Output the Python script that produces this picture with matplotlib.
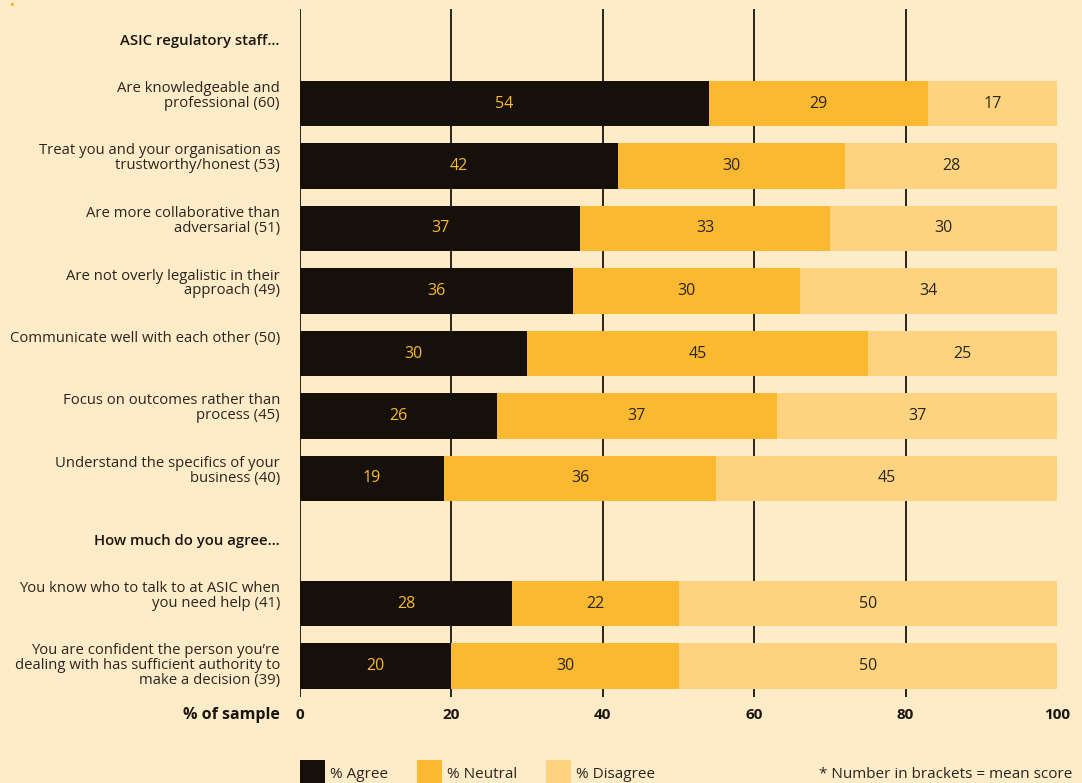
import matplotlib
matplotlib.use("Agg")
import matplotlib.pyplot as plt
import matplotlib.transforms as mtransforms
from matplotlib.patches import Rectangle

plt.rcParams['font.family'] = ['Open Sans', 'DejaVu Sans']

# ---------------- data ----------------
header1 = "ASIC regulatory staff\u2026"
header2 = "How much do you agree\u2026"
labels1 = [
    "Are knowledgeable and\nprofessional (60)",
    "Treat you and your organisation as\ntrustworthy/honest (53)",
    "Are more collaborative than\nadversarial (51)",
    "Are not overly legalistic in their\napproach (49)",
    "Communicate well with each other (50)",
    "Focus on outcomes rather than\nprocess (45)",
    "Understand the specifics of your\nbusiness (40)",
]
labels2 = [
    "You know who to talk to at ASIC when\nyou need help (41)",
    "You are confident the person you\u2019re\ndealing with has sufficient authority to\nmake a decision (39)",
]
agree1 = [54, 42, 37, 36, 30, 26, 19]
neutral1 = [29, 30, 33, 30, 45, 37, 36]
disagree1 = [17, 28, 30, 34, 25, 37, 45]
agree2 = [28, 20]
neutral2 = [22, 30]
disagree2 = [50, 50]
xticks = [0, 20, 40, 60, 80, 100]
legend_labels = ["% Agree", "% Neutral", "% Disagree"]

# ---------------- style ----------------
BG = "#FEEBC7"
C_AGREE = "#15100A"
C_NEUTRAL = "#FBB931"
C_DIS = "#FDD380"
TXT = "#2A2520"

W, H = 1082, 783
fig = plt.figure(figsize=(W / 100, H / 100), dpi=100, facecolor=BG)

def fx(px):
    return px / W

def fy(py):
    return 1 - py / H

ax_left, ax_right, ax_top, ax_bot = 300, 1057, 9, 697
ax = fig.add_axes([fx(ax_left), fy(ax_bot), fx(ax_right - ax_left), (ax_bot - ax_top) / H])
ax.set_facecolor(BG)
for s in ax.spines.values():
    s.set_visible(False)
ax.set_xlim(0, 100)
slot0, slotstep = 41, 62.5
ax.set_ylim((ax_bot - slot0) / slotstep, (ax_top - slot0) / slotstep)
ax.set_xticks([])
ax.set_yticks([])

# grid lines
for t in xticks[:-1]:
    ax.axvline(t, color="#1A140C", lw=1.3, zorder=0)

# rows: slot 0 header1, 1..7 group 1, 8 header2, 9..10 group 2
labels = labels1 + labels2
agree = agree1 + agree2
neutral = neutral1 + neutral2
disagree = disagree1 + disagree2
slots = list(range(1, 8)) + [9, 10]
bh = 0.73

for lab, a, n, d, s in zip(labels, agree, neutral, disagree, slots):
    ax.barh(s, a, left=0, height=bh, color=C_AGREE, zorder=2)
    ax.barh(s, n, left=a, height=bh, color=C_NEUTRAL, zorder=2)
    ax.barh(s, d, left=a + n, height=bh, color=C_DIS, zorder=2)
    ax.text(a / 2, s, str(a), ha="center", va="center", color=C_NEUTRAL, fontsize=11.5, zorder=3)
    ax.text(a + n / 2, s, str(n), ha="center", va="center", color=TXT, fontsize=11.5, zorder=3)
    ax.text(a + n + d / 2, s, str(d), ha="center", va="center", color=TXT, fontsize=11.5, zorder=3)

# category labels (top aligned with bar top)
trans_lab = mtransforms.blended_transform_factory(fig.transFigure, ax.transData)
for lab, s in zip(labels, slots):
    ax.text(fx(280), s - bh / 2 + 0.005, lab, transform=trans_lab, ha="right", va="top",
            fontsize=10.75, color=TXT, linespacing=0.98)

for hdr, s in [(header1, 0), (header2, 8)]:
    ax.text(fx(280), s, hdr, transform=trans_lab, ha="right", va="center",
            fontsize=10.75, color="#1A1510", fontweight="semibold")

# x tick labels
trans_tick = mtransforms.blended_transform_factory(ax.transData, fig.transFigure)
for t in xticks:
    ax.text(t, fy(715), str(t), transform=trans_tick, ha="center", va="center",
            fontsize=11, fontweight="bold", color="#1A1510", clip_on=False)
fig.text(fx(280), fy(715), "% of sample", ha="right", va="center",
         fontsize=11.5, fontweight="bold", color="#1A1510")

# legend
leg = [(300, C_AGREE, legend_labels[0]), (417, C_NEUTRAL, legend_labels[1]), (546, C_DIS, legend_labels[2])]
for x0, c, t in leg:
    fig.patches.append(Rectangle((fx(x0), fy(785)), fx(25), 25 / H, transform=fig.transFigure,
                                 facecolor=c, edgecolor="none"))
    fig.text(fx(x0 + 30), fy(774), t, ha="left", va="center", fontsize=11, color=TXT)

fig.text(fx(1072), fy(774), "* Number in brackets = mean score", ha="right", va="center",
         fontsize=11, color=TXT)

# small dot top-left
fig.patches.append(Rectangle((fx(11), fy(6)), fx(3), 3 / H, transform=fig.transFigure,
                             facecolor=C_NEUTRAL, edgecolor="none"))

fig.savefig("out.png", dpi=100, facecolor=BG)
